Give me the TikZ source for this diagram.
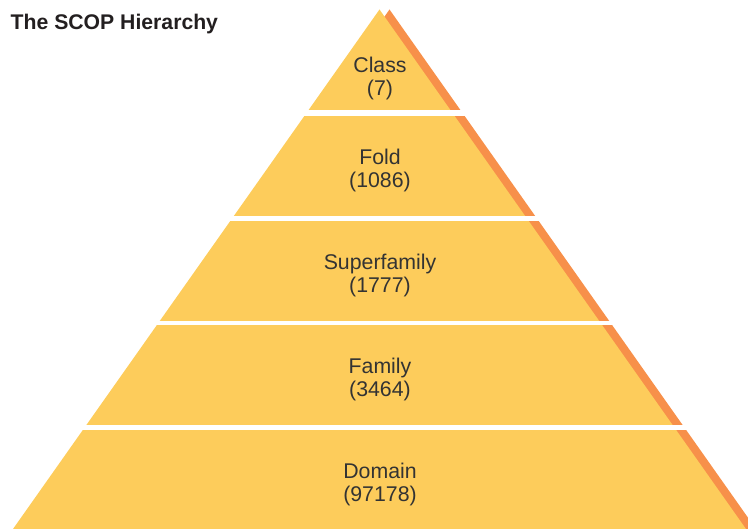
\documentclass[tikz,border=0pt]{standalone}
\usepackage{fontspec}
\setmainfont{Liberation Sans}
\definecolor{pyryellow}{HTML}{FDCC5B}
\definecolor{pyrorange}{HTML}{F7904A}
\definecolor{labelgray}{HTML}{333333}
\definecolor{titleblack}{HTML}{231F20}
\begin{document}
\begin{tikzpicture}[x=1pt,y=-1pt,
  levellabel/.style={font=\fontsize{21.3}{23.5}\selectfont, text=labelgray, align=center, inner sep=0pt},
  titletext/.style={font=\bfseries\fontsize{21.2}{24}\selectfont, text=titleblack, inner sep=0pt}]
\useasboundingbox (0,0) rectangle (748,529);
\foreach \top/\bot in {0/110, 116.5/215.5, 221.5/320.5, 326/425, 431/530} {
  \begin{scope}
    \clip (0,\top) rectangle (748,\bot);
    \fill[pyrorange] (389.5,9.5) -- (756,529) -- (23,529) -- cycle;
    \fill[pyryellow] (379.5,9.5) -- (746,529) -- (13,529) -- cycle;
  \end{scope}
}
\node[titletext, anchor=base west] (title) at (10.5,29.5) {The SCOP Hierarchy};
\node[levellabel] (class) at (380,78.5) {Class\\(7)};
\node[levellabel] (fold) at (380,170.5) {Fold\\(1086)};
\node[levellabel] (superfamily) at (380,275.5) {Superfamily\\(1777)};
\node[levellabel] (family) at (380,379.5) {Family\\(3464)};
\node[levellabel] (domain) at (380,484.5) {Domain\\(97178)};
\end{tikzpicture}
\end{document}
